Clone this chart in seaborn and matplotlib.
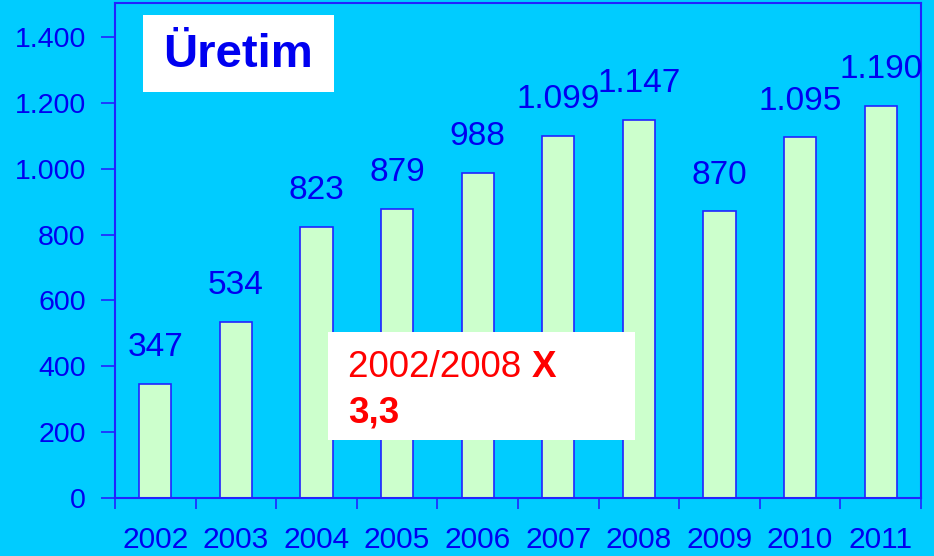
import matplotlib
matplotlib.use("Agg")
import matplotlib.pyplot as plt
import seaborn as sns
import pandas as pd
from matplotlib.patches import Rectangle

years = ["2002", "2003", "2004", "2005", "2006", "2007", "2008", "2009", "2010", "2011"]
values = [347, 534, 823, 879, 988, 1099, 1147, 870, 1095, 1190]
yticks = [0, 200, 400, 600, 800, 1000, 1200, 1400]
title_text = "Üretim"
note_regular = "2002/2008 "
note_bold_x = "X"
note_bold_line2 = "3,3"

def fmt(v):
    return f"{v:,}".replace(",", ".")

sns.set_style("white")
plt.rcParams["font.family"] = ["Liberation Sans", "DejaVu Sans"]

BG = "#00CCFF"
BAR = "#CCFFCC"
BLUE = "#0000F0"
LINE = "#2222FF"
RED = "#FF0000"

W, H = 934, 556
fig = plt.figure(figsize=(W / 100, H / 100), dpi=100, facecolor=BG)
ax = fig.add_axes([115 / W, (H - 498) / H, (921 - 115) / W, (498 - 3) / H])
ax.set_facecolor(BG)

df = pd.DataFrame({"year": years, "value": values})
sns.barplot(data=df, x="year", y="value", ax=ax, color=BAR, edgecolor=LINE,
            linewidth=1.2, width=0.4, saturation=1)

ax.set_xlim(-0.5, len(years) - 0.5)
ax.set_ylim(0, 1503)
ax.set_yticks(yticks)
ax.set_yticklabels([fmt(v) for v in yticks], fontsize=20.5, color=BLUE)
ax.set_xlabel("")
ax.set_ylabel("")

# x: labels under centers, tick marks at category boundaries
ax.set_xticks(range(len(years)))
ax.set_xticklabels(years, fontsize=21.5, color=BLUE)
ax.tick_params(axis="x", which="major", length=0, pad=20)
ax.set_xticks([i - 0.5 for i in range(len(years) + 1)], minor=True)
ax.tick_params(axis="x", which="minor", length=8, width=1.2, color=LINE, direction="out", bottom=True)
ax.tick_params(axis="y", length=10, width=1.2, color=LINE, direction="out", pad=11, left=True)

for s in ax.spines.values():
    s.set_color(LINE)
    s.set_linewidth(1.5)
    s.set_visible(True)

ax.bar_label(ax.containers[0], labels=[fmt(v) for v in values], padding=15,
             fontsize=24, color=BLUE)

# Title box
fig.patches.append(Rectangle((143 / W, (H - 92) / H), (334 - 143) / W, (92 - 15) / H,
                             transform=fig.transFigure, facecolor="white", edgecolor="none", zorder=5))
fig.text((143 + 334) / 2 / W, (H - 55) / H, title_text, fontsize=34, fontweight="bold",
         color=BLUE, ha="center", va="center", zorder=6)

# Note box
fig.patches.append(Rectangle((328 / W, (H - 440) / H), (635 - 328) / W, (440 - 332) / H,
                             transform=fig.transFigure, facecolor="white", edgecolor="none", zorder=5))
t1 = fig.text(348 / W, (H - 377) / H, note_regular, fontsize=26.5, color=RED,
              ha="left", va="baseline", zorder=6)
fig.canvas.draw()
bb = t1.get_window_extent()
fig.text(bb.x1 / W, (H - 377) / H, note_bold_x, fontsize=26.5, color=RED, fontweight="bold",
         ha="left", va="baseline", zorder=6)
fig.text(348 / W, (H - 422) / H, note_bold_line2, fontsize=26.5, color=RED, fontweight="bold",
         ha="left", va="baseline", zorder=6)

fig.savefig("out.png", dpi=100, facecolor=BG)
